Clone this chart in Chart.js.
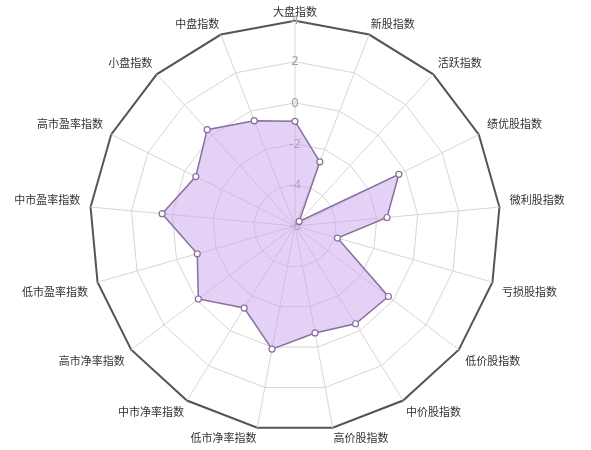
<!DOCTYPE html>
<html>
<head>
<meta charset="utf-8">
<script src="https://cdn.jsdelivr.net/npm/chart.js@4"></script>
<style>
  html, body { margin: 0; padding: 0; background: #fff; }
  #wrap { width: 591px; height: 450px; }
</style>
</head>
<body>
<div id="wrap"><canvas id="radar"></canvas></div>
<script>
const categories = [
    '大盘指数', '新股指数', '活跃指数', '绩优股指数', '微利股指数', '亏损股指数',
    '低价股指数', '中价股指数', '高价股指数', '低市净率指数', '中市净率指数',
    '高市净率指数', '低市盈率指数', '中市盈率指数', '高市盈率指数', '小盘指数', '中盘指数'
];
const values = [
    -0.9, -2.65, -5.7, -0.35, -1.5, -3.85,
    -0.3, -0.4, -0.7, 0.1, -1.3,
    -0.1, -1.05, 0.5, -0.6, 0.35, -0.5
];
const tickValues = [-6, -4, -2, 0, 2, 4];

const ctx = document.getElementById('radar').getContext('2d');
const lastTick = tickValues.length - 1;

// label gap grows toward the sides, tighter at top and bottom
function labelPad(c) {
    if (c.index === 0) return 2;
    const a = 2 * Math.PI * c.index / categories.length;
    const s = Math.sin(a);
    return 3 + 7 * s * s;
}

new Chart(ctx, {
    type: 'radar',
    data: {
        labels: categories,
        datasets: [{
            data: values,
            backgroundColor: 'rgba(200, 165, 238, 0.5)',
            borderColor: '#8a6e9e',
            borderWidth: 1.5,
            pointBackgroundColor: '#fff',
            pointBorderColor: '#8a6e9e',
            pointBorderWidth: 1.2,
            pointRadius: 3
        }]
    },
    options: {
        responsive: true,
        maintainAspectRatio: false,
        animation: false,
        layout: { padding: { top: 4, bottom: 4, left: 0, right: 0 } },
        plugins: {
            legend: { display: false },
            tooltip: { enabled: false }
        },
        scales: {
            r: {
                min: tickValues[0],
                max: tickValues[lastTick],
                afterBuildTicks: axis => {
                    axis.ticks = tickValues.map(v => ({ value: v }));
                },
                angleLines: { color: '#d6d6d6', lineWidth: 1 },
                grid: {
                    color: c => c.index === lastTick ? '#555' : '#d6d6d6',
                    lineWidth: c => c.index === lastTick ? 2 : 1
                },
                ticks: {
                    showLabelBackdrop: false,
                    backdropPadding: -6,
                    color: '#a0a0a0',
                    font: { family: 'Noto Sans', size: 13 }
                },
                pointLabels: {
                    color: '#333',
                    padding: labelPad,
                    font: { family: '"Noto Sans CJK SC"', size: 11 }
                }
            }
        }
    }
});
</script>
</body>
</html>
